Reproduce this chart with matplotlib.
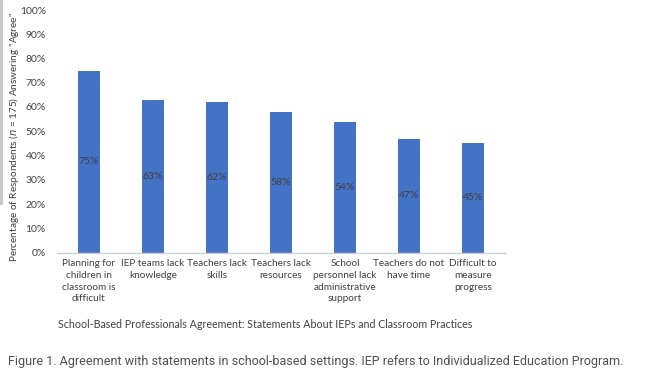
import matplotlib
matplotlib.use("Agg")
import matplotlib.pyplot as plt
from matplotlib.patches import Rectangle
from matplotlib.ticker import FuncFormatter

categories = [
    "Planning for\nchildren in\nclassroom is\ndifficult",
    "IEP teams lack\nknowledge",
    "Teachers lack\nskills",
    "Teachers lack\nresources",
    "School\npersonnel lack\nadministrative\nsupport",
    "Teachers do not\nhave time",
    "Difficult to\nmeasure\nprogress",
]
values = [75, 63, 62, 58, 54, 47, 45]
yticks = [0, 10, 20, 30, 40, 50, 60, 70, 80, 90, 100]

plt.rcParams['font.family'] = ['Lato', 'DejaVu Sans']

fig = plt.figure(figsize=(6.6, 3.7), dpi=100)
ax = fig.add_axes([57/660, 1-252.5/370, (505-57)/660, (252.5-10)/370])

x = list(range(len(values)))
ax.bar(x, values, width=0.33, color="#4472C4", zorder=2)
for xi, v in zip(x, values):
    ax.text(xi, v/2, f"{v}%", ha="center", va="center", fontsize=7.5, color="#404040")

ax.set_xlim(-0.5, len(values)-0.5)
ax.set_ylim(0, 100)
ax.set_yticks(yticks)
ax.yaxis.set_major_formatter(FuncFormatter(lambda v, p: f"{int(v)}%"))
ax.set_xticks(x)
ax.set_xticklabels(categories, fontsize=7.2, color="#404040", linespacing=1.38)
ax.tick_params(axis='y', labelsize=7.5, labelcolor="#404040", length=0, pad=8)
ax.tick_params(axis='x', length=0, pad=5)
for s in ["top", "right", "left"]:
    ax.spines[s].set_visible(False)
ax.spines["bottom"].set_color("#d0d0d0")
ax.spines["bottom"].set_linewidth(1)

fig.text(14/660, 1-137/370, "Percentage of Respondents ($n$ = 175) Answering \"Agree\"",
         rotation=90, ha="center", va="center", fontsize=7.2, color="#404040")
fig.text(265/660, 1-325/370, "School-Based Professionals Agreement: Statements About IEPs and Classroom Practices",
         ha="center", va="center", fontsize=7.7, color="#404040")

fig.text(8/660, 1-361/370, "Figure 1. Agreement with statements in school-based settings. IEP refers to Individualized Education Program.",
         ha="left", va="center", fontsize=9.0, color="#505050",
         family=['Roboto', 'DejaVu Sans'], fontweight='normal')

fig.patches.append(Rectangle((0, 1-205/370), 3/660, 205/370, transform=fig.transFigure,
                             facecolor="#c8c8c8", edgecolor="none"))

fig.savefig("out.png", dpi=100)
